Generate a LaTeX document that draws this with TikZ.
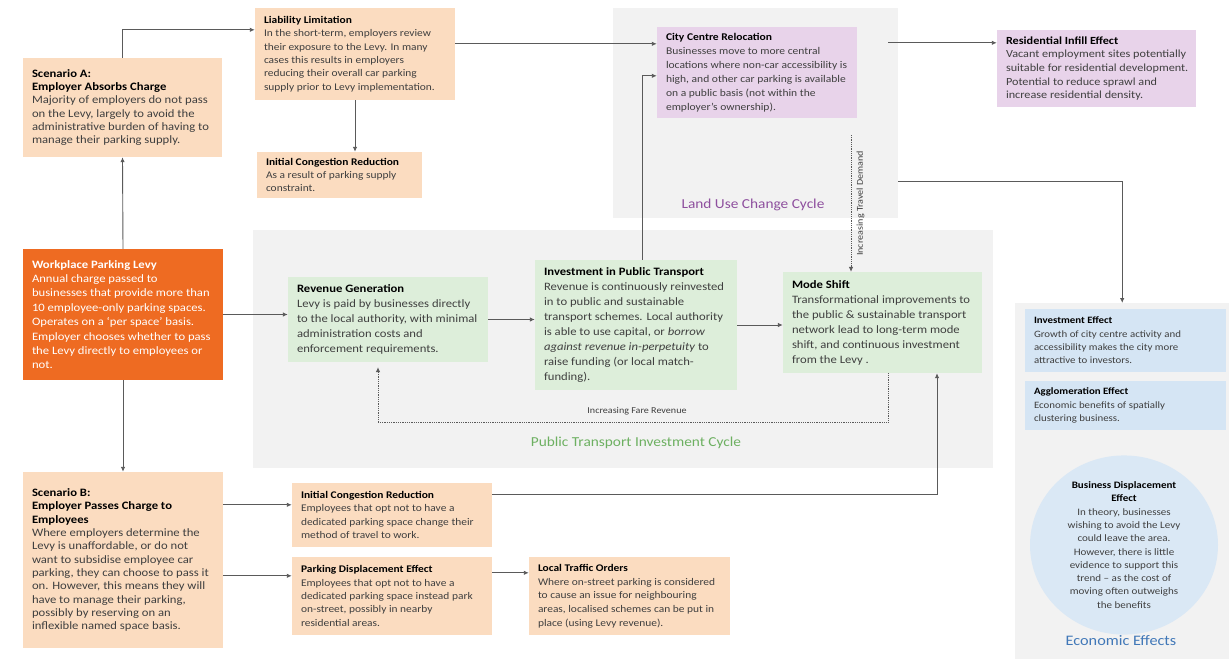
\documentclass[tikz,border=0pt]{standalone}
\usepackage{fontspec}
\setmainfont{Carlito}[FakeStretch=1.12]
\usetikzlibrary{arrows.meta,calc,shapes.geometric}
\definecolor{peach}{HTML}{FBDCC0}
\definecolor{levy}{HTML}{EE6B22}
\definecolor{grn}{HTML}{DDEEDA}
\definecolor{prp}{HTML}{E8D3EA}
\definecolor{blu}{HTML}{D5E5F4}
\definecolor{cblu}{HTML}{DAE8F5}
\definecolor{panel}{HTML}{F2F2F2}
\definecolor{txt}{HTML}{3F3F3F}
\definecolor{lnc}{HTML}{5A5A5A}
\definecolor{lupurple}{HTML}{8E4F9E}
\definecolor{ptgreen}{HTML}{6DB061}
\definecolor{ecblue}{HTML}{4178B8}
\begin{document}
\begin{tikzpicture}[x=1pt,y=-1pt,
  bx/.style={inner sep=0pt, draw=none},
  lbl/.style={anchor=west, inner sep=0pt, xshift=9pt, align=left, text=txt},
  fs/.style={font=\fontsize{10.2}{13.3}\selectfont},
  fm/.style={font=\fontsize{11.3}{13.35}\selectfont},
  fg/.style={font=\fontsize{11.3}{15}\selectfont},
  fe/.style={font=\fontsize{9.7}{13.3}\selectfont},
  panelbox/.style={fill=panel, draw=none, inner sep=0pt, anchor=north west},
  cyclelabel/.style={font=\fontsize{13.7}{16}\selectfont},
  arr/.style={draw=lnc, line width=0.9pt, -{Latex[length=5pt,width=4.5pt]}},
  dotarr/.style={draw=lnc, line width=0.8pt, densely dotted, -{Latex[length=5pt,width=4.5pt]}},
  small/.style={font=\fontsize{9}{10}\selectfont, text=txt}
]
\useasboundingbox (0,0) rectangle (1229,659);
% panels
\node[panelbox, minimum width=285pt, minimum height=210pt] (lu) at (613,8) {};
\node[panelbox, minimum width=740pt, minimum height=238pt] (pt) at (253,230) {};
\node[panelbox, minimum width=214pt, minimum height=356pt] (econ) at (1015,303) {};
\node[cyclelabel, text=lupurple] (lul) at (753,205) {Land Use Change Cycle};
\node[cyclelabel, text=ptgreen] (ptl) at (636,443) {Public Transport Investment Cycle};
\node[font=\fontsize{14.5}{16}\selectfont, text=ecblue] (ecl) at (1121,641) {Economic Effects};

% boxes
\node[bx, fill=peach, minimum width=199pt, minimum height=99pt, label={[lbl,fm]west:{\textbf{\color{black}Scenario A:}\\ \textbf{\color{black}Employer Absorbs Charge}\\ Majority of employers do not pass\\ on the Levy, largely to avoid the\\ administrative burden of having to\\ manage their parking supply.}}] (scA) at (122.5,107.5) {};
\node[bx, fill=peach, minimum width=200pt, minimum height=92pt, label={[lbl,fs]west:{\textbf{\color{black}Liability Limitation}\\ In the short-term, employers review\\ their exposure to the Levy. In many\\ cases this results in employers\\ reducing their overall car parking\\ supply prior to Levy implementation.}}] (liab) at (355,54) {};
\node[bx, fill=peach, minimum width=165pt, minimum height=46pt, label={[lbl,fs]west:{\textbf{\color{black}Initial Congestion Reduction}\\ As a result of parking supply\\ constraint.}}] (icrA) at (339.5,175) {};
\node[bx, fill=prp, minimum width=200pt, minimum height=91pt, label={[lbl,font=\fontsize{10.3}{14}\selectfont]west:{\textbf{\color{black}City Centre Relocation}\\ Businesses move to more central\\ locations where non-car accessibility is\\ high, and other car parking is available\\ on a public basis (not within the\\ employer's ownership).}}] (ccr) at (757,72.5) {};
\node[bx, fill=prp, minimum width=199pt, minimum height=77pt, label={[lbl,font=\fontsize{10.9}{13.7}\selectfont]west:{\textbf{\color{black}Residential Infill Effect}\\ Vacant employment sites potentially\\ suitable for residential development.\\ Potential to reduce sprawl and\\ increase residential density.}}] (rie) at (1096.5,68.5) {};
\node[bx, fill=levy, minimum width=200pt, minimum height=131pt, label={[lbl,text=white,font=\fontsize{11.3}{14.4}\selectfont]west:{\textbf{Workplace Parking Levy}\\ Annual charge passed to\\ businesses that provide more than\\ 10 employee-only parking spaces.\\ Operates on a `per space' basis.\\ Employer chooses whether to pass\\ the Levy directly to employees or\\ not.}}] (wpl) at (123,314.5) {};
\node[bx, fill=grn, minimum width=200pt, minimum height=85pt, label={[lbl,fg]west:{\textbf{\color{black}Revenue Generation}\\ Levy is paid by businesses directly\\ to the local authority, with minimal\\ administration costs and\\ enforcement requirements.}}] (rev) at (388,319.5) {};
\node[bx, fill=grn, minimum width=202pt, minimum height=130pt, label={[lbl,fg]west:{\textbf{\color{black}Investment in Public Transport}\\ Revenue is continuously reinvested\\ in to public and sustainable\\ transport schemes. Local authority\\ is able to use capital, or \textit{borrow}\\ \textit{against revenue in-perpetuity} to\\ raise funding (or local match-\\ funding).}}] (ipt) at (636,325) {};
\node[bx, fill=grn, minimum width=199pt, minimum height=101pt, label={[lbl,fg]west:{\textbf{\color{black}Mode Shift}\\ Transformational improvements to\\ the public \& sustainable transport\\ network lead to long-term mode\\ shift, and continuous investment\\ from the Levy .}}] (ms) at (882.5,322.5) {};
\node[bx, fill=peach, minimum width=200pt, minimum height=176pt, label={[lbl,fm]west:{\textbf{\color{black}Scenario B:}\\ \textbf{\color{black}Employer Passes Charge to}\\ \textbf{\color{black}Employees}\\ Where employers determine the\\ Levy is unaffordable, or do not\\ want to subsidise employee car\\ parking, they can choose to pass it\\ on. However, this means they will\\ have to manage their parking,\\ possibly by reserving on an\\ inflexible named space basis.}}] (scB) at (123,560) {};
\node[bx, fill=peach, minimum width=200pt, minimum height=64pt, label={[lbl,fs]west:{\textbf{\color{black}Initial Congestion Reduction}\\ Employees that opt not to have a\\ dedicated parking space change their\\ method of travel to work.}}] (icrB) at (392,515) {};
\node[bx, fill=peach, minimum width=200pt, minimum height=78pt, label={[lbl,fs]west:{\textbf{\color{black}Parking Displacement Effect}\\ Employees that opt not to have a\\ dedicated parking space instead park\\ on-street, possibly in nearby\\ residential areas.}}] (pde) at (392,596) {};
\node[bx, fill=peach, minimum width=201pt, minimum height=78pt, label={[lbl,font=\fontsize{10.2}{13.7}\selectfont]west:{\textbf{\color{black}Local Traffic Orders}\\ Where on-street parking is considered\\ to cause an issue for neighbouring\\ areas, localised schemes can be put in\\ place (using Levy revenue).}}] (lto) at (629.5,596) {};
\node[bx, fill=blu, minimum width=201pt, minimum height=63pt, label={[lbl,fe]west:{\textbf{\color{black}Investment Effect}\\ Growth of city centre activity and\\ accessibility makes the city more\\ attractive to investors.}}] (inv) at (1125.5,340.5) {};
\node[bx, fill=blu, minimum width=201pt, minimum height=49pt, label={[lbl,fe]west:{\textbf{\color{black}Agglomeration Effect}\\ Economic benefits of spatially\\ clustering business.}}] (agg) at (1125.5,405.5) {};
\node[ellipse, fill=cblu, minimum width=188pt, minimum height=170pt, inner sep=0pt, align=center, text=txt, font=\fontsize{9.85}{13.3}\selectfont] (bde) at (1124,545)
{\textbf{\color{black}Business Displacement}\\ \textbf{\color{black}Effect}\\ In theory, businesses\\ wishing to avoid the Levy\\ could leave the area.\\ However, there is little\\ evidence to support this\\ trend -- as the cost of\\ moving often outweighs\\ the benefits};

% connectors
\draw[arr] (wpl.north) -- (scA.south);
\draw[arr] (scA.north) |- ([yshift=-22pt]liab.north west);
\draw[arr] (liab.south) -- (liab.south |- icrA.north);
\draw[arr] ([yshift=-36pt]liab.north east) -- ([yshift=-36pt]liab.north east -| ccr.west);
\draw[arr] ([yshift=-13pt,xshift=-10pt]rie.north west -| lu.east) -- ([yshift=-13pt]rie.north west);
\draw[arr] ([yshift=-173pt]lu.north east) -| (econ.north);
\draw[arr] ([xshift=6pt]ipt.north) |- ([yshift=-49pt]ccr.north west);
\draw[arr] (wpl.east) -- (wpl.east -| rev.west);
\draw[arr] (rev.east) -- (rev.east -| ipt.west);
\draw[arr] (ipt.east) -- (ipt.east -| ms.west);
\coordinate (tdtop) at (851,135);
\draw[dotarr] (tdtop) -- (tdtop |- ms.north) node[pos=0.5, right=2pt, small, rotate=90, anchor=north] {Increasing Travel Demand};
\draw[dotarr, shorten >=5pt] ([xshift=5.5pt]ms.south) -- ++(0,49) coordinate (frc) -| ([xshift=-10pt]rev.south);
\node[small, anchor=south] (frl) at (637,419) {Increasing Fare Revenue};
\draw[arr] (wpl.south) -- (scB.north);
\draw[arr] ([yshift=-33pt]scB.north east) -- ([yshift=-33pt]scB.north east -| icrB.west);
\draw[arr] ([yshift=-104pt]scB.north east) -- ([yshift=-104pt]scB.north east -| pde.west);
\draw[arr] ([yshift=-16pt]pde.north east) -- ([yshift=-16pt]lto.north west);
\draw[arr] ([yshift=-12pt]icrB.north east) -| ([xshift=54.5pt]ms.south);
\end{tikzpicture}
\end{document}
